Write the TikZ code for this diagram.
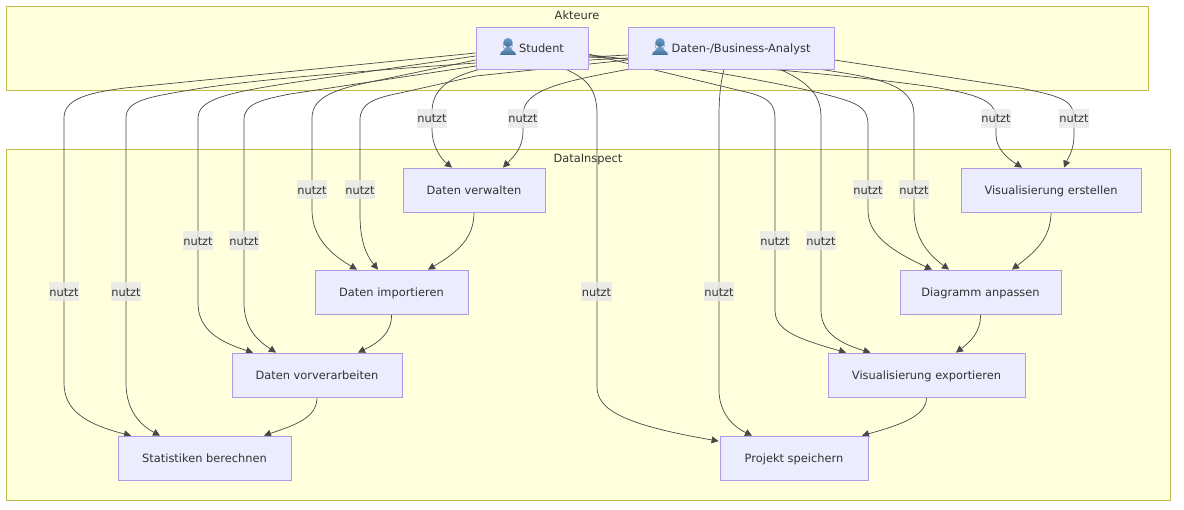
\documentclass[tikz,border=0pt]{standalone}
\usepackage{fontspec}
\setmainfont{DejaVu Sans}
\newfontfamily\emo{Noto Emoji}
\usetikzlibrary{arrows.meta}
\definecolor{sgfill}{HTML}{FFFFDE}
\definecolor{sgline}{HTML}{BDBD50}
\definecolor{nfill}{HTML}{ECECFF}
\definecolor{nline}{HTML}{B09AE4}
\definecolor{ink}{HTML}{333333}
\definecolor{edgec}{HTML}{484848}
\definecolor{lab}{HTML}{E8E8E8}
\definecolor{bust}{HTML}{5B8AB0}
\definecolor{bustd}{HTML}{3F6F98}
\definecolor{bustl}{HTML}{6FA0C6}
\pgfdeclarelayer{sub}
\pgfdeclarelayer{lines}
\pgfsetlayers{sub,lines,main}
\tikzset{
  x=1pt,y=-1pt,
  sg/.style={draw=sgline,fill=sgfill,line width=.9pt},
  sgt/.style={text=ink,font=\fontsize{11.4}{14}\selectfont,inner sep=0pt,text height=10pt,text depth=1pt},
  box/.style={draw=nline,fill=nfill,line width=.8pt,text=ink,inner sep=0pt,text height=10pt,text depth=1pt,font=\fontsize{11.4}{14}\selectfont},
  edge/.style={draw=edgec,line width=.7pt,-{Triangle[length=7pt,width=7pt]}},
  lbl/.style={fill=lab,fill opacity=.8,text opacity=1,text=ink,inner sep=0pt,minimum width=30.5pt,minimum height=19pt,text height=10pt,text depth=1pt,font=\fontsize{11.4}{14}\selectfont},
  icon/.style={text=bust,inner sep=0pt,font=\emo\fontsize{15}{15}\selectfont},
  bustfill/.style={top color=bustl,bottom color=bustd,draw=none},
}
\newcommand{\bustshape}[1]{%
  \begin{scope}[shift={(#1)}]
    \path[bustfill] (0,-4.5) circle[radius=4.6pt];
    \path[bustfill] (-8,8) .. controls (-8,4) and (-3,4) .. (-2,0) -- (2,0) .. controls (3,4) and (8,4) .. (8,8) -- cycle;
  \end{scope}}
\begin{document}
\begin{tikzpicture}
\useasboundingbox (0,0) rectangle (1184,510);
\begin{pgfonlayer}{sub}
\path[fill=white] (0,0) rectangle (1184,510);
\path[sg] (6.5,6.5) rectangle (1148,90);
\path[sg] (6.5,149) rectangle (1170,500);
\end{pgfonlayer}
\node[sgt] (takt) at (577,15.5) {Akteure};
\node[sgt] (tdat) at (588,158) {DataInspect};
\node[box,minimum width=112pt,minimum height=42pt] (st) at (532,48) {\hspace{19pt}Student};
\node[box,minimum width=206pt,minimum height=42pt] (an) at (731,48) {\hspace{20pt}Daten-/Business-Analyst};
\node[icon] (ic1) at (508,47) {\char"1F464};
\node[icon] (ic2) at (660,47) {\char"1F464};
\bustshape{508,47}
\bustshape{660,47}
\node[box,minimum width=142pt,minimum height=44pt] (verw) at (474,190) {Daten verwalten};
\node[box,minimum width=153pt,minimum height=44pt] (imp) at (391.5,292) {Daten importieren};
\node[box,minimum width=170pt,minimum height=44pt] (vor) at (317,375) {Daten vorverarbeiten};
\node[box,minimum width=173pt,minimum height=44pt] (stat) at (204.5,458) {Statistiken berechnen};
\node[box,minimum width=148pt,minimum height=44pt] (proj) at (794,458) {Projekt speichern};
\node[box,minimum width=197pt,minimum height=44pt] (expo) at (926.5,375) {Visualisierung exportieren};
\node[box,minimum width=161pt,minimum height=44pt] (anp) at (980.5,292) {Diagramm anpassen};
\node[box,minimum width=180pt,minimum height=44pt] (erst) at (1051,190) {Visualisierung erstellen};
\begin{pgfonlayer}{lines}
% Student / Analyst to Statistiken
\draw[edge] ([yshift=-5pt]st.west) -- (125,88) .. controls (85,93) and (64,100) .. (64,118) -- (64,383) .. controls (64,410) and (85,424) .. ([xshift=-73.5pt]stat.north);
\draw[edge] ([yshift=-7pt]an.west) -- (476,63) .. controls (350,72) and (250,80) .. (190,90) .. controls (150,97) and (126,100) .. (126,118) -- (126,383) .. controls (126,410) and (140,425) .. ([xshift=-44.5pt]stat.north);
% to Vorverarbeiten
\draw[edge] ([yshift=-8pt]st.west) -- (290,83) .. controls (225,93) and (198,100) .. (198,118) -- (198,303) .. controls (198,330) and (220,342) .. ([xshift=-64pt]vor.north);
\draw[edge] ([yshift=-10pt]an.west) -- (476,66) -- (290,94) .. controls (260,100) and (244,104) .. (244,120) -- (244,303) .. controls (244,330) and (260,342) .. ([xshift=-41pt]vor.north);
% to Importieren
\draw[edge] ([yshift=-12pt]st.west) -- (380,80) .. controls (340,88) and (312,95) .. (312,118) -- (312,210) .. controls (312,238) and (332,255) .. ([xshift=-34.5pt]imp.north);
\draw[edge] ([yshift=-12pt]an.west) -- (476,76) -- (400,93) .. controls (375,98) and (360,103) .. (360,120) -- (360,215) .. controls (360,240) and (366,255) .. ([xshift=-13.5pt]imp.north);
% to Verwalten
\draw[edge] ([xshift=4pt]st.south west) .. controls (445,78) and (432,92) .. (432,112) -- (432,130) .. controls (432,145) and (440,158) .. ([xshift=-22pt]verw.north);
\draw[edge] (an.south west) .. controls (560,82) and (523,90) .. (523,115) -- (523,130) .. controls (523,148) and (515,155) .. ([xshift=29pt]verw.north);
% to Projekt
\draw[edge] ([xshift=34pt]st.south) .. controls (590,80) and (597,92) .. (597,115) -- (597,387) .. controls (597,410) and (625,425) .. ([yshift=-5.5pt,xshift=-1pt]proj.north west);
\draw[edge] ([xshift=-7pt]an.south) .. controls (720,85) and (719,100) .. (719,118) -- (719,390) .. controls (719,410) and (730,425) .. ([xshift=-42pt]proj.north);
% to Export
\draw[edge] ([yshift=-6pt]st.east) -- (750,93) .. controls (768,98) and (775,104) .. (775,118) -- (775,310) .. controls (775,330) and (795,338) .. ([xshift=-80.5pt]expo.north);
\draw[edge] ([xshift=49pt]an.south) .. controls (815,85) and (821,100) .. (821,118) -- (821,310) .. controls (821,330) and (835,342) .. ([xshift=-56pt]expo.north);
% to Anpassen
\draw[edge] ([yshift=-7pt]st.east) .. controls (650,60) and (800,85) .. (845,100) .. controls (860,105) and (868,110) .. (868,125) -- (868,210) .. controls (868,232) and (885,248) .. ([xshift=-48.5pt]anp.north);
\draw[edge] ([xshift=-14pt]an.south east) .. controls (880,78) and (914,85) .. (914,115) -- (914,210) .. controls (914,235) and (925,252) .. ([xshift=-31.5pt]anp.north);
% to Erstellen
\draw[edge] ([yshift=-9pt]st.east) .. controls (700,62) and (850,75) .. (933,87) .. controls (975,94) and (996,100) .. (996,118) -- (996,135) .. controls (996,150) and (1010,160) .. ([xshift=-29pt]erst.north);
\draw[edge] ([yshift=-12pt]an.east) -- (1020,88) .. controls (1060,96) and (1074,100) .. (1074,118) -- (1074,135) .. controls (1074,150) and (1068,158) .. ([xshift=13pt]erst.north);
% chain
\draw[edge] (verw.south) .. controls (474,238) and (458,252) .. ([xshift=36.5pt]imp.north);
\draw[edge] (imp.south) .. controls (392,332) and (380,342) .. ([xshift=41pt]vor.north);
\draw[edge] (vor.south) .. controls (317,418) and (295,425) .. ([xshift=59.5pt]stat.north);
\draw[edge] (erst.south) .. controls (1051,238) and (1035,252) .. ([xshift=31.5pt]anp.north);
\draw[edge] (anp.south) .. controls (981,332) and (970,342) .. ([xshift=29.5pt]expo.north);
\draw[edge] (expo.south) .. controls (927,416) and (900,425) .. ([xshift=68pt]proj.north);
\end{pgfonlayer}
\foreach \i/\lx/\ly in {a/64/292,b/126/292,c/198/241,d/244/241,e/312/190,f/360/190,g/432/118.5,h/523/118.5,i/596.5/292,j/719/292,k/775/241,l/821/241,m/868/190,n/914/190,o/996/118.5,p/1074/118.5}
  \node[lbl] (l\i) at (\lx,\ly) {nutzt};
\end{tikzpicture}
\end{document}
